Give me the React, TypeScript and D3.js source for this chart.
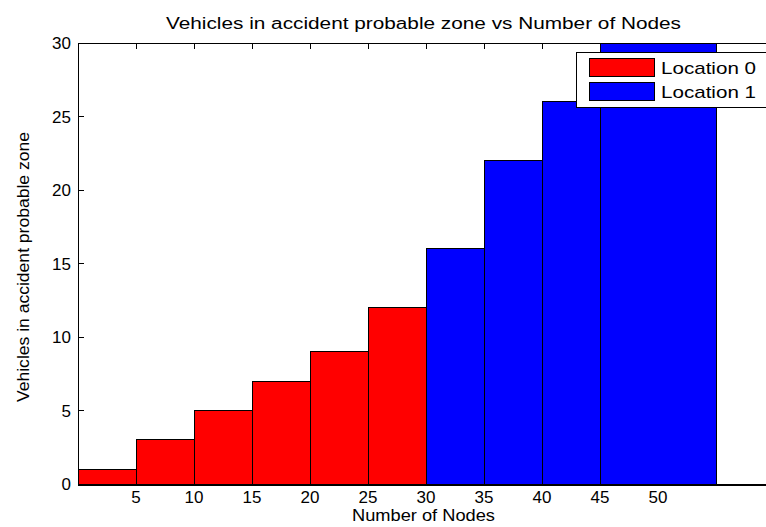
import React from "react";
import * as d3 from "d3";

// ---- data ----
const binStart = [0, 5, 10, 15, 20, 25, 30, 35, 40, 45];
const binEnd = [5, 10, 15, 20, 25, 30, 35, 40, 45, 55];
const values = [1, 3, 5, 7, 9, 12, 16, 22, 26, 30];
const location = [0, 0, 0, 0, 0, 0, 1, 1, 1, 1];
const seriesNames = ["Location 0", "Location 1"];
const seriesColors = ["#ff0000", "#0000ff"];
const xTicks = [5, 10, 15, 20, 25, 30, 35, 40, 45, 50];
const yTicks = [0, 5, 10, 15, 20, 25, 30];
const titleText = "Vehicles in accident probable zone vs Number of Nodes";
const xLabelText = "Number of Nodes";
const yLabelText = "Vehicles in accident probable zone";

const W = 766;
const H = 527;
const FONT = "'Liberation Sans', Arial, Helvetica, sans-serif";

export default function App() {
  const left = 78, right = 774, top = 43, bottom = 484;
  const x = d3.scaleLinear().domain([0, 60]).range([left, right]);
  const y = d3.scaleLinear().domain([0, 30]).range([bottom, top]);
  const tickLen = 6;

  return (
    <svg
      width={W}
      height={H}
      style={{ position: "absolute", left: 0, top: 0, background: "#fff" }}
      fontFamily={FONT}
    >
      <defs>
        <clipPath id="plotClip">
          <rect x={left} y={top} width={right - left} height={bottom - top} />
        </clipPath>
      </defs>
      <rect x={0} y={0} width={W} height={H} fill="#fff" />

      {/* tick marks (inside) */}
      <g stroke="#000" strokeWidth={1} shapeRendering="crispEdges">
        {xTicks.map((t) => (
          <g key={"xt" + t}>
            <line x1={x(t)} x2={x(t)} y1={bottom} y2={bottom - tickLen} />
            <line x1={x(t)} x2={x(t)} y1={top} y2={top + tickLen} />
          </g>
        ))}
        {yTicks.map((t) => (
          <g key={"yt" + t}>
            <line x1={left} x2={left + tickLen} y1={y(t)} y2={y(t)} />
            <line x1={right} x2={right - tickLen} y1={y(t)} y2={y(t)} />
          </g>
        ))}
      </g>

      {/* bars */}
      <g clipPath="url(#plotClip)" shapeRendering="crispEdges">
        {values.map((v, i) => (
          <rect
            key={"b" + i}
            x={x(binStart[i])}
            y={y(v)}
            width={x(binEnd[i]) - x(binStart[i])}
            height={y(0) - y(v)}
            fill={seriesColors[location[i]]}
            stroke="#000"
            strokeWidth={1}
          />
        ))}
      </g>

      {/* frame */}
      <g stroke="#000" fill="none" shapeRendering="crispEdges">
        <rect x={left} y={top} width={right - left} height={bottom - top} strokeWidth={1} />
        <line x1={left} x2={right} y1={bottom + 0.5} y2={bottom + 0.5} strokeWidth={2} />
      </g>

      {/* tick labels */}
      <g fontSize={17} fill="#000">
        {xTicks.map((t) => (
          <text key={"xl" + t} x={x(t)} y={503} textAnchor="middle">
            {t}
          </text>
        ))}
        {yTicks.map((t) => (
          <text key={"yl" + t} x={71} y={y(t) + 6} textAnchor="end">
            {t}
          </text>
        ))}
      </g>

      {/* title and axis labels */}
      <text
        x={166}
        y={29}
        fontSize={16}
        textLength={515}
        lengthAdjust="spacingAndGlyphs"
        fill="#000"
      >
        {titleText}
      </text>
      <text
        x={352}
        y={521}
        fontSize={17}
        textLength={143}
        lengthAdjust="spacingAndGlyphs"
        fill="#000"
      >
        {xLabelText}
      </text>
      <text
        transform={`translate(29,402) rotate(-90)`}
        x={0}
        y={0}
        fontSize={16}
        textLength={270}
        lengthAdjust="spacingAndGlyphs"
        fill="#000"
      >
        {yLabelText}
      </text>

      {/* legend */}
      <g>
        <rect x={576} y={52} width={190} height={55} fill="#fff" stroke="#000" strokeWidth={1} shapeRendering="crispEdges" />
        {seriesNames.map((name, i) => (
          <g key={"lg" + i}>
            <rect
              x={589}
              y={58 + i * 24}
              width={65}
              height={18}
              fill={seriesColors[i]}
              stroke="#000"
              strokeWidth={1}
              shapeRendering="crispEdges"
            />
            <text
              x={661}
              y={73.5 + i * 24}
              fontSize={17}
              textLength={95}
              lengthAdjust="spacingAndGlyphs"
              fill="#000"
            >
              {name}
            </text>
          </g>
        ))}
      </g>
    </svg>
  );
}
